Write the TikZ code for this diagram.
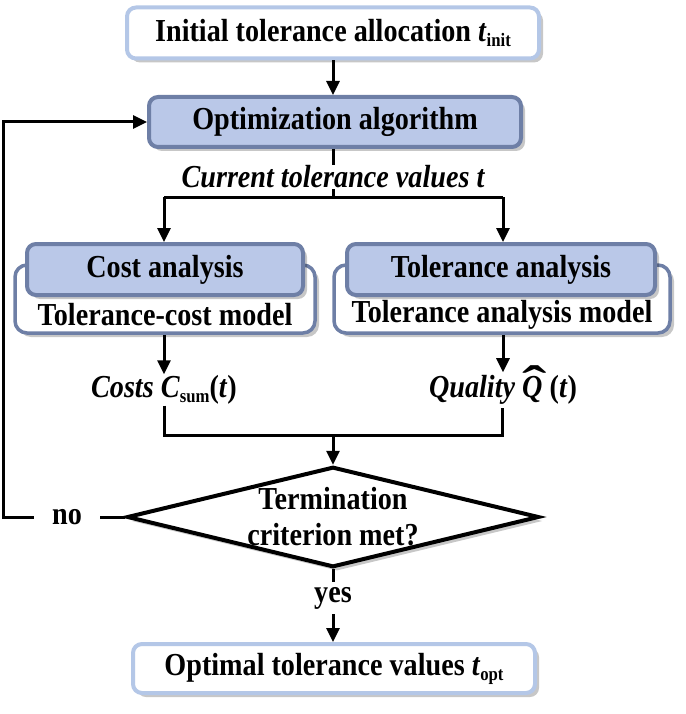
\documentclass[tikz,border=0pt]{standalone}
\usepackage{fontspec}
\setmainfont{Liberation Serif}[FakeStretch=0.88]
\usetikzlibrary{arrows.meta,shapes.geometric,shadows}
\definecolor{lightrim}{RGB}{180,199,231}
\definecolor{bluefill}{RGB}{186,200,232}
\definecolor{slaterim}{RGB}{110,127,166}
\newcommand{\subtx}[1]{\raisebox{-0.35ex}{\fontsize{19}{19}\selectfont #1}}
\newcommand{\hatQ}{\ooalign{\itshape Q\cr\hidewidth\kern0.12em\raisebox{-0.06em}{\scalebox{2.6}[1.5]{\symbol{"02C6}}}\hidewidth\cr}}
\begin{document}
\begin{tikzpicture}[x=1pt,y=-1pt,
  font=\fontsize{32}{36}\selectfont\bfseries,
  shadowed/.style={drop shadow={shadow xshift=4pt,shadow yshift=-4pt,fill=black,opacity=0.22}},
  ioBox/.style={draw=lightrim,fill=white,line width=4pt,rounded corners=9pt,inner sep=0pt,shadowed},
  procBox/.style={draw=slaterim,fill=bluefill,line width=4pt,rounded corners=9pt,inner sep=0pt,shadowed},
  outerBox/.style={draw=slaterim,fill=white,line width=3.5pt,rounded corners=12pt,inner sep=0pt,shadowed},
  conn/.style={line width=3pt},
  arr/.style={line width=3pt,-{Triangle[length=14pt,width=13pt]}},
  lbl/.style={inner sep=1pt}
]
\useasboundingbox (0,0) rectangle (685,714);

% boxes
\node[ioBox,minimum width=412pt,minimum height=51pt] (init) at (333,33) {Initial tolerance allocation \textit{t}\subtx{init}};
\node[procBox,minimum width=372pt,minimum height=50pt] (opt) at (335,122) {Optimization algorithm};
\node[lbl] (cur) at (333,177) {\itshape Current tolerance values t};

\node[outerBox,minimum width=300pt,minimum height=68pt] (costO) at (165,299) {};
\node[procBox,minimum width=276pt,minimum height=51pt] (cost) at (165,269.5) {Cost analysis};
\node[lbl] (costM) at (165,315) {Tolerance-cost model};

\node[outerBox,minimum width=336pt,minimum height=68pt] (tolO) at (502,299) {};
\node[procBox,minimum width=308pt,minimum height=51pt] (tol) at (501,269.5) {Tolerance analysis};
\node[lbl] (tolM) at (502,315) {Tolerance analysis model};

\node[lbl] (costs) at (164,390) {\textit{Costs C}\subtx{sum}(\textit{t})};
\node[lbl,inner ysep=3pt] (qual) at (503,390) {\textit{Quality} \hatQ\ (\textit{t})};

\node[diamond,draw=black,fill=white,line width=4pt,inner sep=0pt,aspect=4.1,
      minimum width=412pt,minimum height=100pt,align=center,shadowed] (dia) at (333,517)
      {Termination\\criterion met?};
\node[lbl,inner xsep=18pt] (no) at (67,517) {no};
\node[lbl,inner ysep=5pt] (yes) at (333,598) {yes};
\node[ioBox,minimum width=402pt,minimum height=49pt] (final) at (334,668.5) {Optimal tolerance values \textit{t}\subtx{opt}};

% coordinates
\coordinate (split) at (333,197);
\coordinate (splitL) at (164,197);
\coordinate (splitR) at (503,197);
\coordinate (mergeL) at (164,435);
\coordinate (mergeR) at (502,435);
\coordinate (merge) at (333,435);
\coordinate (loopB) at (3,517);
\coordinate (loopT) at (3,122);

% connectors
\draw[arr] (init.south -| 333,0) -- (opt.north -| 333,0);
\draw[conn] (opt.south -| 333,0) -- (cur.north);
\draw[conn] (cur.south) -- (split);
\draw[conn] (splitL) -- (splitR);
\draw[arr] (splitL) -- (cost.north -| splitL);
\draw[arr] (splitR) -- (tol.north -| splitR);
\draw[arr] (costO.south -| 164,0) -- (costs.north -| 164,0);
\draw[arr] (tolO.south -| 503,0) -- (qual.north -| 503,0);
\draw[conn] (costs.south -| 164,0) -- (mergeL) -- (mergeR) -- (qual.south -| 502,0);
\draw[arr] (merge) -- (dia.north);
\draw[conn] (dia.west) -- (no.east);
\draw[arr] (no.west) -- (loopB) -- (loopT) -- (opt.west);
\draw[conn] (dia.south) -- (yes.north);
\draw[arr] (yes.south) -- (final.north -| yes.south);
\end{tikzpicture}
\end{document}
